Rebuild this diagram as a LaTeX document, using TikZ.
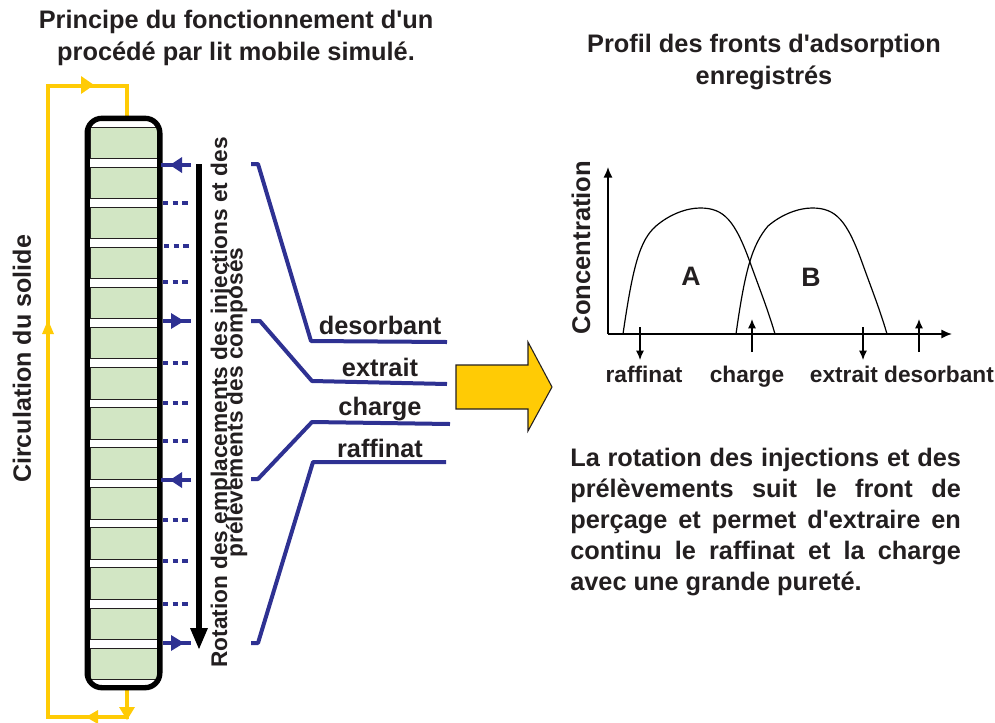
\documentclass[tikz,border=0pt]{standalone}
\usepackage{fontspec}
\setmainfont{Liberation Sans}[BoldFont={Liberation Sans Bold},Ligatures=TeXOff]
\usetikzlibrary{arrows.meta}
\definecolor{bluel}{HTML}{2E3192}
\definecolor{yell}{HTML}{FFCB05}
\definecolor{gren}{HTML}{D2E6C4}
\definecolor{ink}{HTML}{231F20}
\tikzset{
  x=0.75pt,y=-0.75pt,
  txt/.style={inner sep=0pt,text=ink,font=\bfseries\fontsize{19}{24}\selectfont,align=center},
  lab/.style={txt,anchor=base,font=\bfseries\fontsize{19}{20}\selectfont},
  side/.style={txt,rotate=90,font=\bfseries\fontsize{17}{12.5}\selectfont},
  small/.style={txt,anchor=base,font=\bfseries\fontsize{17}{18}\selectfont},
  feed/.style={draw=bluel,line width=3pt,line join=round},
  dots/.style={draw=bluel,line width=3pt,dash pattern=on 4pt off 3.2pt},
  solid loop/.style={draw=yell,line width=3.2pt,line join=miter},
  ya/.style={fill=yell,draw=none},
  thinax/.style={draw=black,line width=1.3pt,-{Latex[length=8pt,width=7pt]}},
  curve/.style={draw=black,line width=0.9pt},
}
\begin{document}
\begin{tikzpicture}
\useasboundingbox (0,0) rectangle (995,722);
% titles
\node[txt] (t1) at (236,38) {Principe du fonctionnement d'un\\procédé par lit mobile simulé.};
\node[txt] (t2) at (764,62) {Profil des fronts d'adsorption\\enregistrés};
% yellow circulation
\coordinate (ctop) at (127,116);
\coordinate (cbot) at (127,690);
\draw[solid loop] (ctop) -- (127,86) -- (48,86) -- (48,717) -- (127,717) -- (cbot);
\fill[ya] (81,76) -- (94,85) -- (81,94) -- cycle;
\fill[ya] (42,334) -- (48,320) -- (54,334) -- cycle;
\fill[ya] (98,710) -- (86,717) -- (98,724) -- cycle;
\fill[ya] (119,707) -- (135,707) -- (127,720) -- cycle;
% column
\fill[white,rounded corners=12pt] (88,118) rectangle (159,687);
\foreach \k in {0,...,13}{
  \pgfmathsetmacro\ya{127+40.08*\k}
  \pgfmathsetmacro\yb{\ya+31.5}
  \draw[fill=gren,draw=ink,line width=0.7pt] (90,\ya) rectangle (158,\yb);
}
\node[draw=black,line width=4pt,rounded corners=11pt,minimum width=54.5pt,minimum height=427pt,inner sep=0pt] (col) at (123.5,403) {};
% blue injection arrows
\coordinate (a1) at (191,165); \coordinate (c1) at (161,165);
\coordinate (a2) at (191,321); \coordinate (c2) at (163,321);
\coordinate (a3) at (191,480); \coordinate (c3) at (161,480);
\coordinate (a4) at (191,643); \coordinate (c4) at (163,643);
\draw[feed] (a1) -- (c1);
\fill[bluel] (182,157) -- (182,173) -- (170,165) -- cycle;
\draw[feed] (c2) -- (a2);
\fill[bluel] (171,313) -- (171,329) -- (184,321) -- cycle;
\draw[feed] (a3) -- (c3);
\fill[bluel] (182,472) -- (182,488) -- (170,480) -- cycle;
\draw[feed] (c4) -- (a4);
\fill[bluel] (171,635) -- (171,651) -- (184,643) -- cycle;
\foreach \yy/\xs in {203/163,246/164,282/163,363/163,403/163,441/163,520/163,561/163,604/163}{
  \draw[dots] (\xs,\yy) -- (191,\yy);
}
% rotation arrow
\coordinate (r1) at (199,164);
\coordinate (r2) at (199,648);
\draw[draw=black,line width=4.5pt] (r1) -- (199,630);
\fill[black] (190,628) -- (208,628) -- (199,649) -- cycle;
\node[side] (rot) at (229,402.5) {Rotation des emplacements des injections et des\\[-5.5pt]prélèvements des composés};
\node[txt,rotate=90,font=\bfseries\fontsize{18.8}{20}\selectfont] (circ) at (22,359) {Circulation du solide};
% labels and feed lines
\node[lab] (ld) at (380,334) {desorbant};
\node[lab] (le) at (380,376) {extrait};
\node[lab] (lc) at (380,415) {charge};
\node[lab] (lr) at (380,457) {raffinat};
\coordinate (f1) at (251,164); \coordinate (e1) at (447,342);
\coordinate (f2) at (251,321); \coordinate (e2) at (447,384);
\coordinate (f3) at (251,479); \coordinate (e3) at (450,424);
\coordinate (f4) at (251,643); \coordinate (e4) at (446,462);
\draw[feed] (f1) -- (258,164) -- (311,341) -- (e1);
\draw[feed] (f2) -- (260,321) -- (312,381) -- (e2);
\draw[feed] (f3) -- (258,479) -- (312,422) -- (e3);
\draw[feed] (f4) -- (258,643) -- (313,462) -- (e4);
% big arrow
\draw[fill=yell,draw=ink,line width=0.8pt,line join=miter] (456,365) -- (528,365) -- (528,342) -- (552,387) -- (528,431) -- (528,409) -- (456,409) -- cycle;
% graph
\coordinate (o) at (608,334);
\coordinate (yt) at (608,167);
\coordinate (xr) at (952,334);
\draw[thinax] (o) -- (yt);
\draw[thinax] (o) -- (xr);
\draw[curve] (623,334) .. controls (633,265) and (640,240) .. (656,226)
  .. controls (670,214) and (687,208) .. (700,208)
  .. controls (724,208) and (735,220) .. (751,265)
  .. controls (760,290) and (768,310) .. (775,334);
\draw[curve] (736,334) .. controls (745,270) and (752,245) .. (768,226)
  .. controls (782,214) and (799,208) .. (812,208)
  .. controls (836,208) and (847,220) .. (863,265)
  .. controls (872,290) and (880,310) .. (887,334);
\node[txt,font=\bfseries\fontsize{20}{20}\selectfont] (A) at (691,276) {A};
\node[txt,font=\bfseries\fontsize{20}{20}\selectfont] (B) at (811,277) {B};
\node[txt,rotate=90,font=\bfseries\fontsize{19.2}{20}\selectfont] (conc) at (581,247.5) {Concentration};
\coordinate (m1) at (640,327); \coordinate (n1) at (640,360);
\coordinate (m2) at (752,352); \coordinate (n2) at (752,319);
\coordinate (m3) at (863,327); \coordinate (n3) at (863,360);
\coordinate (m4) at (919,352); \coordinate (n4) at (919,319);
\foreach \p/\q in {m1/n1,m2/n2,m3/n3,m4/n4}{
  \draw[draw=black,line width=0.9pt,-{Latex[length=7pt,width=6pt]}] (\p) -- (\q);
}
\node[small] (g1) at (644,382) {raffinat};
\node[small] (g2) at (747,382) {charge};
\node[small] (g3) at (844,382) {extrait};
\node[small] (g4) at (939,382) {desorbant};
% paragraph
\node[txt,anchor=north west,align=left,font=\bfseries\fontsize{19}{23.25}\selectfont] (para) at (570,448) {%
\makebox[293pt][s]{La rotation des injections et des}\\
\makebox[293pt][s]{prélèvements suit le front de}\\
\makebox[293pt][s]{perçage et permet d'extraire en}\\
\makebox[293pt][s]{continu le raffinat et la charge}\\
avec une grande pureté.};
\end{tikzpicture}
\end{document}
